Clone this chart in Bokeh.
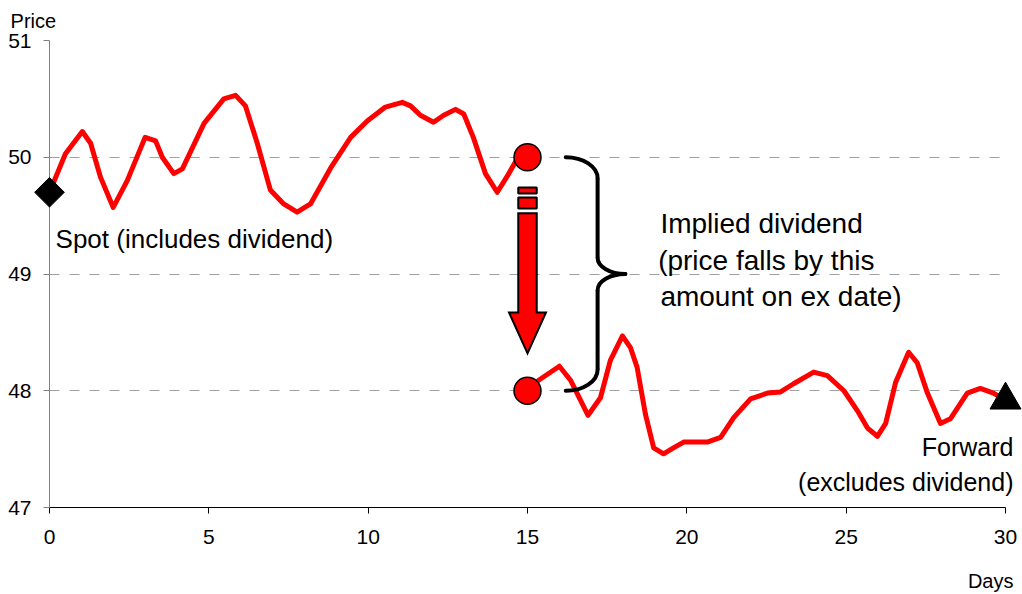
import math
from bokeh.plotting import figure
from bokeh.models import Range1d, FixedTicker
from bokeh.core.properties import value
from bokeh.embed import file_html
from bokeh.resources import INLINE

# ---------------- data ----------------
days_before = [0, 0.5, 1.03, 1.29, 1.6, 2.0, 2.44, 3.0, 3.33, 3.54,
               3.9, 4.17, 4.85, 5.47, 5.84, 6.15, 6.52, 6.93, 7.35, 7.77,
               8.19, 8.85, 9.45, 9.97, 10.54, 11.07, 11.33, 11.64, 12.05, 12.37,
               12.74, 13.0, 13.3, 13.68, 14.05, 14.37, 14.62, 15.0]
price_before = [49.7, 50.03, 50.22, 50.12, 49.83, 49.57, 49.80, 50.17, 50.14, 50.0,
                49.86, 49.9, 50.29, 50.5, 50.53, 50.44, 50.12, 49.72, 49.6, 49.53,
                49.6, 49.92, 50.17, 50.31, 50.43, 50.47, 50.44, 50.36, 50.30, 50.36,
                50.41, 50.37, 50.17, 49.86, 49.7, 49.84, 49.96, 50.0]

days_after = [15.0, 15.35, 16.0, 16.35, 16.9, 17.29, 17.6, 17.98, 18.23, 18.44,
              18.7, 18.96, 19.27, 19.58, 19.9, 20.64, 21.06, 21.47, 22.0, 22.53,
              22.94, 23.35, 23.98, 24.41, 24.93, 25.35, 25.67, 25.98, 26.24, 26.55,
              26.96, 27.23, 27.55, 27.96, 28.27, 28.8, 29.21, 29.62, 30.0]
price_after = [48.0, 48.09, 48.21, 48.09, 47.79, 47.94, 48.26, 48.47, 48.37, 48.2,
               47.8, 47.51, 47.46, 47.51, 47.56, 47.56, 47.6, 47.77, 47.93, 47.98,
               47.99, 48.06, 48.16, 48.13, 48.0, 47.83, 47.68, 47.61, 47.72, 48.07,
               48.33, 48.24, 47.98, 47.72, 47.76, 47.98, 48.02, 47.98, 47.92]

ex_day = 15
price_cum = 50.0
price_ex = 48.0

x_ticks = [0, 5, 10, 15, 20, 25, 30]
y_ticks = [47, 48, 49, 50, 51]

FONT = "Liberation Sans"
PX_PER_UNIT_Y = 116.75  # frame height (467 px) / 4 price units

# ---------------- figure ----------------
p = figure(width=1022, height=594,
           x_range=Range1d(0, 30), y_range=Range1d(47, 51),
           output_backend="svg", toolbar_location=None,
           min_border_left=49, min_border_right=17,
           min_border_top=40, min_border_bottom=87)
p.outline_line_color = None
p.background_fill_color = "white"
p.border_fill_color = "white"

p.xgrid.grid_line_color = None
p.ygrid.ticker = FixedTicker(ticks=y_ticks)
p.ygrid.grid_line_color = "#a0a0a0"
p.ygrid.grid_line_dash = "10 10"
p.ygrid.grid_line_width = 1

p.xaxis.ticker = FixedTicker(ticks=x_ticks)
p.yaxis.ticker = FixedTicker(ticks=y_ticks)
for ax in (p.xaxis[0], p.yaxis[0]):
    ax.major_label_text_font = FONT
    ax.major_label_text_font_size = "21px"
    ax.major_label_text_color = "black"
    ax.minor_tick_line_color = None
    ax.major_tick_in = 0
    ax.major_tick_out = 6
    ax.axis_line_width = 1
    ax.major_tick_line_width = 1
p.yaxis.axis_line_color = "#808080"
p.yaxis.major_tick_line_color = "#808080"
p.xaxis.axis_line_color = "black"
p.xaxis.major_tick_line_color = "black"
p.yaxis.major_label_standoff = 12
p.xaxis.major_label_standoff = 16

# ---------------- price path ----------------
p.line(days_before, price_before, line_color="#ff0000", line_width=5,
       line_join="round", line_cap="round")
p.line(days_after, price_after, line_color="#ff0000", line_width=5,
       line_join="round", line_cap="round")

# circles at the ex date (cum and ex prices)
p.scatter([ex_day, ex_day], [price_cum, price_ex], marker="circle", size=27,
          fill_color="#ff0000", line_color="black", line_width=1.5, level="overlay")

# spot and forward markers
p.scatter([days_before[0]], [price_before[0]], marker="square", angle=math.pi / 4,
          size=21, fill_color="black", line_color="black", level="overlay")
p.scatter([days_after[-1]], [price_after[-1]], marker="triangle",
          size=31, fill_color="black", line_color="black", level="overlay")

# ---------------- arrow (price falls) ----------------
shaft_hw = 0.29
head_hw = 0.58
p.quad(left=[ex_day - shaft_hw] * 2, right=[ex_day + shaft_hw] * 2,
       top=[49.74, 49.655], bottom=[49.69, 49.56],
       fill_color="#ff0000", line_color="black", line_width=2)
arrow_x = [ex_day - shaft_hw, ex_day + shaft_hw, ex_day + shaft_hw, ex_day + head_hw,
           ex_day, ex_day - head_hw, ex_day - shaft_hw]
arrow_y = [49.52, 49.52, 48.67, 48.67, 48.32, 48.67, 48.67]
p.patch(arrow_x, arrow_y, fill_color="#ff0000", line_color="black", line_width=2,
        line_join="miter")

# ---------------- brace ----------------
bx0, bx1, bx2 = 16.2, 17.2, 18.07
ymid = (price_cum + price_ex) / 2
hook = 0.18
tipd = 0.14
k = 0.55
segs = [
    (bx0, price_cum, bx1, price_cum - hook, bx0 + k * (bx1 - bx0), price_cum, bx1, price_cum - hook + k * hook),
    (bx1, ymid + tipd, bx2, ymid, bx1, ymid + tipd - k * tipd, bx2 - k * (bx2 - bx1), ymid),
    (bx2, ymid, bx1, ymid - tipd, bx2 - k * (bx2 - bx1), ymid, bx1, ymid - tipd + k * tipd),
    (bx1, price_ex + hook, bx0, price_ex, bx1, price_ex + hook - k * hook, bx0 + k * (bx1 - bx0), price_ex),
]
p.bezier(x0=[s[0] for s in segs], y0=[s[1] for s in segs],
         x1=[s[2] for s in segs], y1=[s[3] for s in segs],
         cx0=[s[4] for s in segs], cy0=[s[5] for s in segs],
         cx1=[s[6] for s in segs], cy1=[s[7] for s in segs],
         line_color="black", line_width=4, line_cap="round")
p.segment(x0=[bx1, bx1], y0=[price_cum - hook, ymid - tipd],
          x1=[bx1, bx1], y1=[ymid + tipd, price_ex + hook],
          line_color="black", line_width=4)

# ---------------- texts ----------------
def add_text(text, x, y, size, align="left"):
    # compensate Bokeh's placement of the alphabetic baseline (~0.35 em low)
    y_adj = y + 0.35 * size / PX_PER_UNIT_Y
    p.text(x=[x], y=[y_adj], text=[text], text_font=value(FONT),
           text_font_size=f"{size}px", text_align=align,
           text_baseline="alphabetic", text_color="black", level="overlay")

add_text("Price", -1.22, 51.11, 20)
add_text("Days", 30.25, 46.31, 20, "right")
add_text("Spot (includes dividend)", 0.19, 49.22, 26)
add_text("Forward", 30.25, 47.445, 25, "right")
add_text("(excludes dividend)", 30.25, 47.146, 25, "right")
add_text("Implied dividend", 19.17, 49.347, 28)
add_text("(price falls by this", 19.1, 49.03, 28)
add_text("amount on ex date)", 19.17, 48.72, 28)

open("out.html", "w").write(file_html(p, INLINE))
